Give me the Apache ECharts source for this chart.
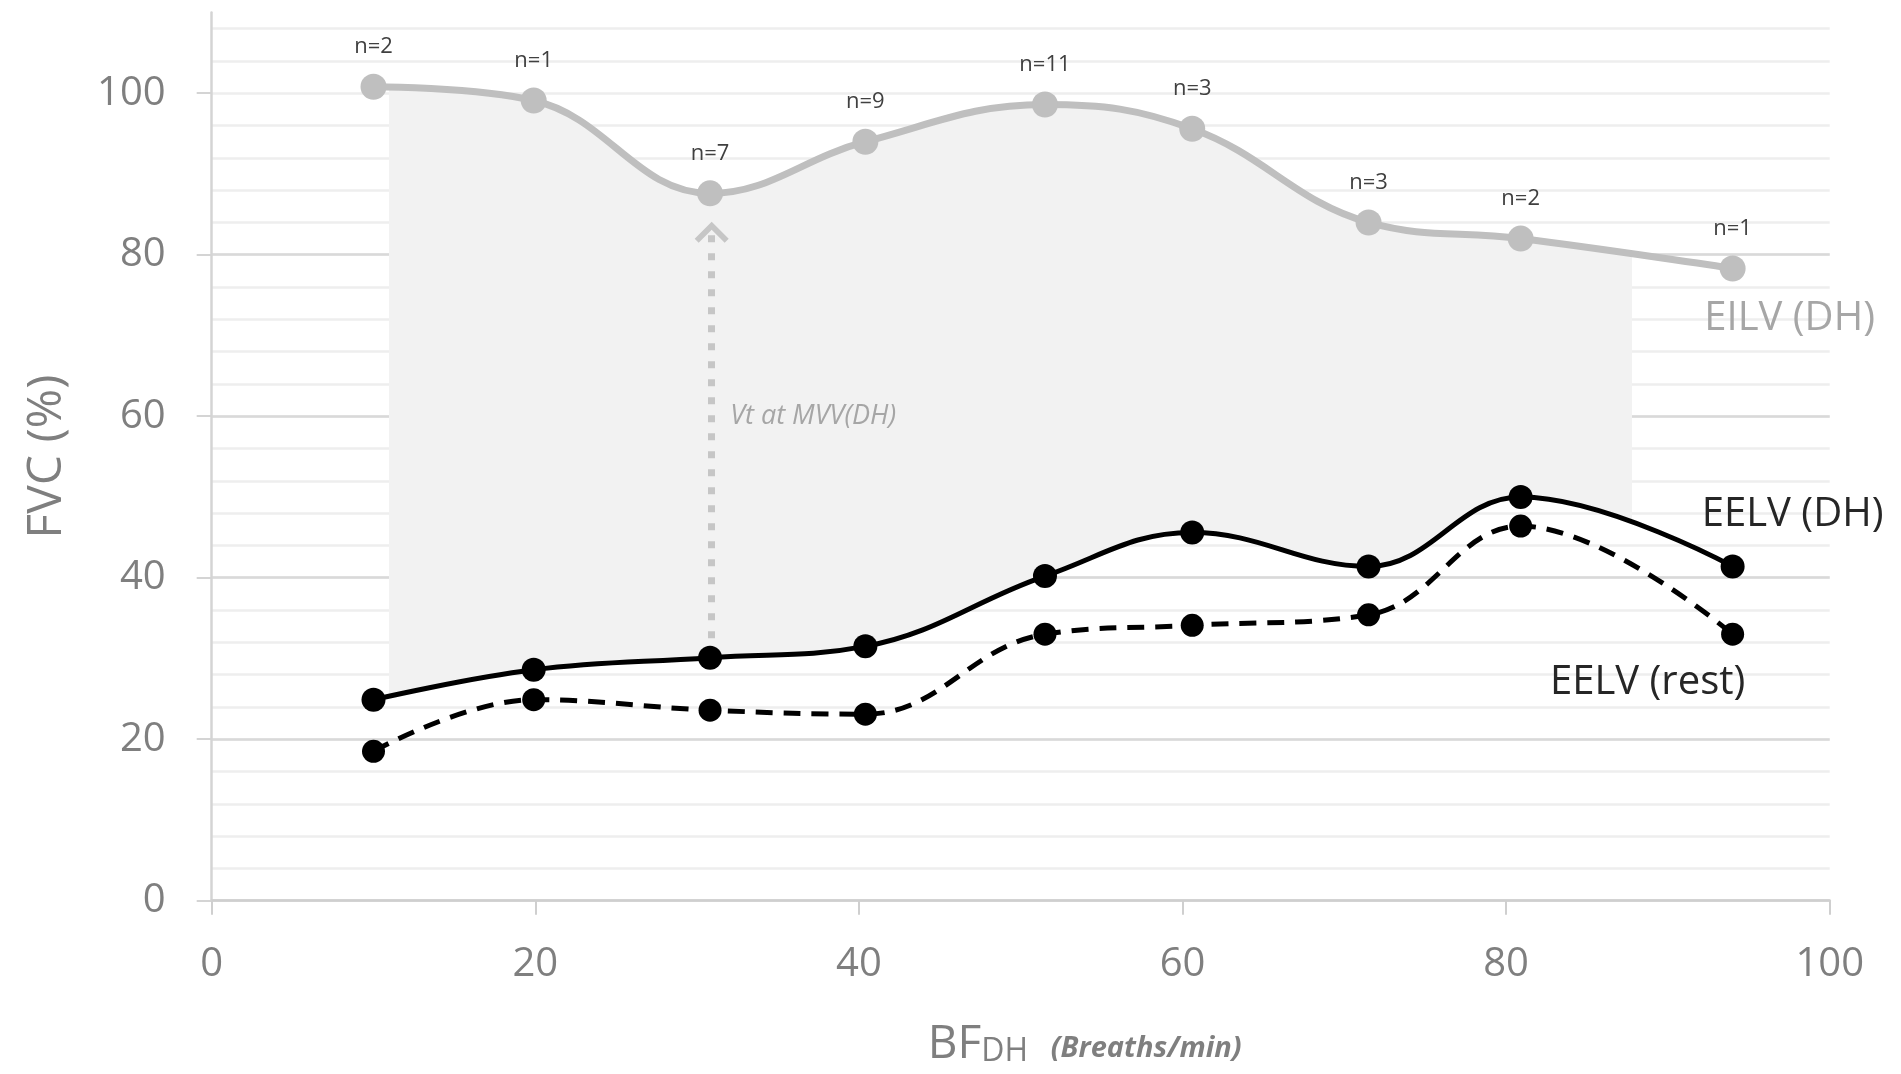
<!DOCTYPE html>
<html><head><meta charset="utf-8">
<script src="https://cdn.jsdelivr.net/npm/echarts@6/dist/echarts.min.js"></script>
<style>html,body{margin:0;padding:0;background:#fff;}#c{width:1901px;height:1074px;}</style>
</head><body><div id="c"></div>
<script>
// ---- data ----
const bfDH     = [10.0, 19.9, 30.8, 40.4, 51.5, 60.6, 71.5, 80.9, 94.0];
const eilvDH   = [100.8, 99.1, 87.6, 94.0, 98.6, 95.6, 84.0, 82.0, 78.3];
const eelvDH   = [24.9, 28.6, 30.1, 31.5, 40.2, 45.6, 41.4, 50.0, 41.4];
const eelvRest = [18.5, 24.9, 23.6, 23.1, 33.0, 34.1, 35.4, 46.4, 33.0];
const nLabels  = ['n=2','n=1','n=7','n=9','n=11','n=3','n=3','n=2','n=1'];
const yTicks   = [0, 20, 40, 60, 80, 100];
const shadeRange = [11, 87.7];
const arrowX = 30.9, arrowFrom = 32.5, arrowTo = 82.6, noteY = 60;
const seriesNames = ['EILV (DH)', 'EELV (DH)', 'EELV (rest)'];
const noteText = 'Vt at MVV(DH)';

// ---- layout ----
const chart = echarts.init(document.getElementById('c'));
const W = chart.getWidth();
const G = {left: 211.7, right: 71.3, top: 12.5, bottom: 173.3};
const xMin = 0, xMax = 100, yMin = 0, yMax = 110;
const sx = (W - G.left - G.right) / (xMax - xMin);
const shadeGrid = {
  left: G.left + (shadeRange[0] - xMin) * sx,
  right: W - G.left - (shadeRange[1] - xMin) * sx,
  top: G.top, bottom: G.bottom, outerBoundsMode: 'none'
};
const FONT = "'Open Sans', sans-serif";
const pts = ys => bfDH.map((x, i) => [x, ys[i]]);
// value first so that stacking happens on the y dimension
const ptsYX = ys => bfDH.map((x, i) => [ys[i], x]);
const bandTop = eilvDH.map((v, i) => v - eelvDH[i]);
const last = bfDH.length - 1;
const SM = 0.4;
const chevron = 'path://M0,0M34,34M0,22L17,5L34,22L30,26L17,13L4,26Z';

function endText(text, x, y, color, offset) {
  return {
    symbol: 'circle', symbolSize: 1, silent: true, animation: false,
    itemStyle: {color: 'rgba(0,0,0,0)'},
    label: {show: true, position: 'inside', formatter: text, color: color,
            fontSize: 40, fontFamily: FONT, offset: offset},
    data: [{coord: [x, y]}]
  };
}

const option = {
  animation: false,
  backgroundColor: '#ffffff',
  textStyle: {fontFamily: FONT},
  grid: [
    {left: G.left, right: G.right, top: G.top, bottom: G.bottom, outerBoundsMode: 'none'},
    shadeGrid
  ],
  xAxis: [
    {
      type: 'value', gridIndex: 0, min: xMin, max: xMax, interval: 20, z: 1,
      axisLine: {show: true, onZero: false, lineStyle: {color: '#cfcfcf', width: 2.5}},
      axisTick: {show: true, length: 14, lineStyle: {color: '#cfcfcf', width: 2}},
      axisLabel: {color: '#7f7f7f', fontSize: 40, margin: 44, fontFamily: FONT},
      splitLine: {show: false},
      name: '{a|BF}{b|DH}{c|   (Breaths/min)}',
      nameLocation: 'middle', nameGap: 121,
      nameTextStyle: {
        padding: [0, 0, 0, 128],
        rich: {
          a: {fontSize: 46, color: '#7f7f7f', fontFamily: FONT, verticalAlign: 'bottom'},
          b: {fontSize: 32, color: '#7f7f7f', fontFamily: FONT, verticalAlign: 'bottom'},
          c: {fontSize: 29, color: '#7f7f7f', fontFamily: FONT, fontStyle: 'italic', fontWeight: 'bold', verticalAlign: 'bottom', padding: [0, 0, 4, 0]}
        }
      }
    },
    {type: 'value', gridIndex: 1, min: shadeRange[0], max: shadeRange[1], show: false}
  ],
  yAxis: [
    {
      type: 'value', gridIndex: 0, min: yMin, max: yMax, interval: 20, z: 1,
      axisLine: {show: true, lineStyle: {color: '#d4d4d4', width: 2.5}},
      axisTick: {show: true, length: 15, customValues: yTicks, lineStyle: {color: '#d4d4d4', width: 2}},
      axisLabel: {customValues: yTicks, color: '#7f7f7f', fontSize: 40, margin: 46, fontFamily: FONT},
      splitLine: {show: true, showMaxLine: false, lineStyle: {color: '#d9d9d9', width: 2.5}},
      name: 'FVC (%)', nameLocation: 'middle', nameRotate: 90, nameGap: 140,
      nameTextStyle: {color: '#7f7f7f', fontSize: 48, fontFamily: FONT}
    },
    {type: 'value', gridIndex: 1, min: yMin, max: yMax, show: false},
    {
      // minor gridlines every 4 units
      type: 'value', gridIndex: 0, min: yMin, max: yMax, interval: 4, position: 'left', z: 0,
      axisLine: {show: false}, axisTick: {show: false}, axisLabel: {show: false},
      splitLine: {show: true, showMaxLine: false, lineStyle: {color: '#eeeeee', width: 2.5}}
    }
  ],
  series: [
    {
      name: 'shadeBase', type: 'line', xAxisIndex: 1, yAxisIndex: 1, stack: 'band',
      encode: {x: 1, y: 0},
      data: ptsYX(eelvDH), smooth: SM, symbol: 'none', silent: true, clip: true,
      lineStyle: {width: 0, opacity: 0}, z: 2
    },
    {
      name: 'shadeBand', type: 'line', xAxisIndex: 1, yAxisIndex: 1, stack: 'band',
      encode: {x: 1, y: 0},
      data: ptsYX(bandTop), smooth: SM, symbol: 'none', silent: true, clip: true,
      lineStyle: {width: 0, opacity: 0}, areaStyle: {color: '#f2f2f2', opacity: 1}, z: 2
    },
    {
      name: seriesNames[2], type: 'line', data: pts(eelvRest), smooth: SM,
      symbol: 'circle', symbolSize: 23, itemStyle: {color: '#000000'},
      lineStyle: {color: '#000000', width: 5, type: [17, 11]}, z: 3,
      markPoint: endText(seriesNames[2], bfDH[last], eelvRest[last], '#262626', [-85, 48])
    },
    {
      name: seriesNames[1], type: 'line', data: pts(eelvDH), smooth: SM,
      symbol: 'circle', symbolSize: 24, itemStyle: {color: '#000000'},
      lineStyle: {color: '#000000', width: 5}, z: 4,
      markPoint: endText(seriesNames[1], bfDH[last], eelvDH[last], '#262626', [60, -52])
    },
    {
      name: seriesNames[0], type: 'line', data: pts(eilvDH), smooth: SM,
      symbol: 'circle', symbolSize: 26, itemStyle: {color: '#bfbfbf'},
      lineStyle: {color: '#bfbfbf', width: 7}, z: 5,
      label: {show: true, position: 'top', distance: 16, color: '#404040', fontSize: 22,
              fontFamily: FONT, formatter: p => nLabels[p.dataIndex]},
      markPoint: endText(seriesNames[0], bfDH[last], eilvDH[last], '#a6a6a6', [57, 50])
    },
    {
      name: 'note', type: 'line', data: [], z: 3, silent: true,
      markLine: {
        silent: true, animation: false,
        symbol: ['none', chevron], symbolSize: 34,
        lineStyle: {color: '#c6c6c6', width: 7, type: [7, 11], cap: 'butt'},
        itemStyle: {color: '#c6c6c6'},
        label: {show: false},
        data: [[{coord: [arrowX, arrowFrom]}, {coord: [arrowX, arrowTo]}]]
      },
      markPoint: {
        symbol: 'circle', symbolSize: 1, silent: true, animation: false,
        itemStyle: {color: 'rgba(0,0,0,0)'},
        label: {show: true, position: 'right', distance: 18, formatter: noteText,
                color: '#a6a6a6', fontSize: 27, fontStyle: 'italic', fontFamily: FONT},
        data: [{coord: [arrowX, noteY]}]
      }
    }
  ]
};
chart.setOption(option);
</script>
</body></html>
